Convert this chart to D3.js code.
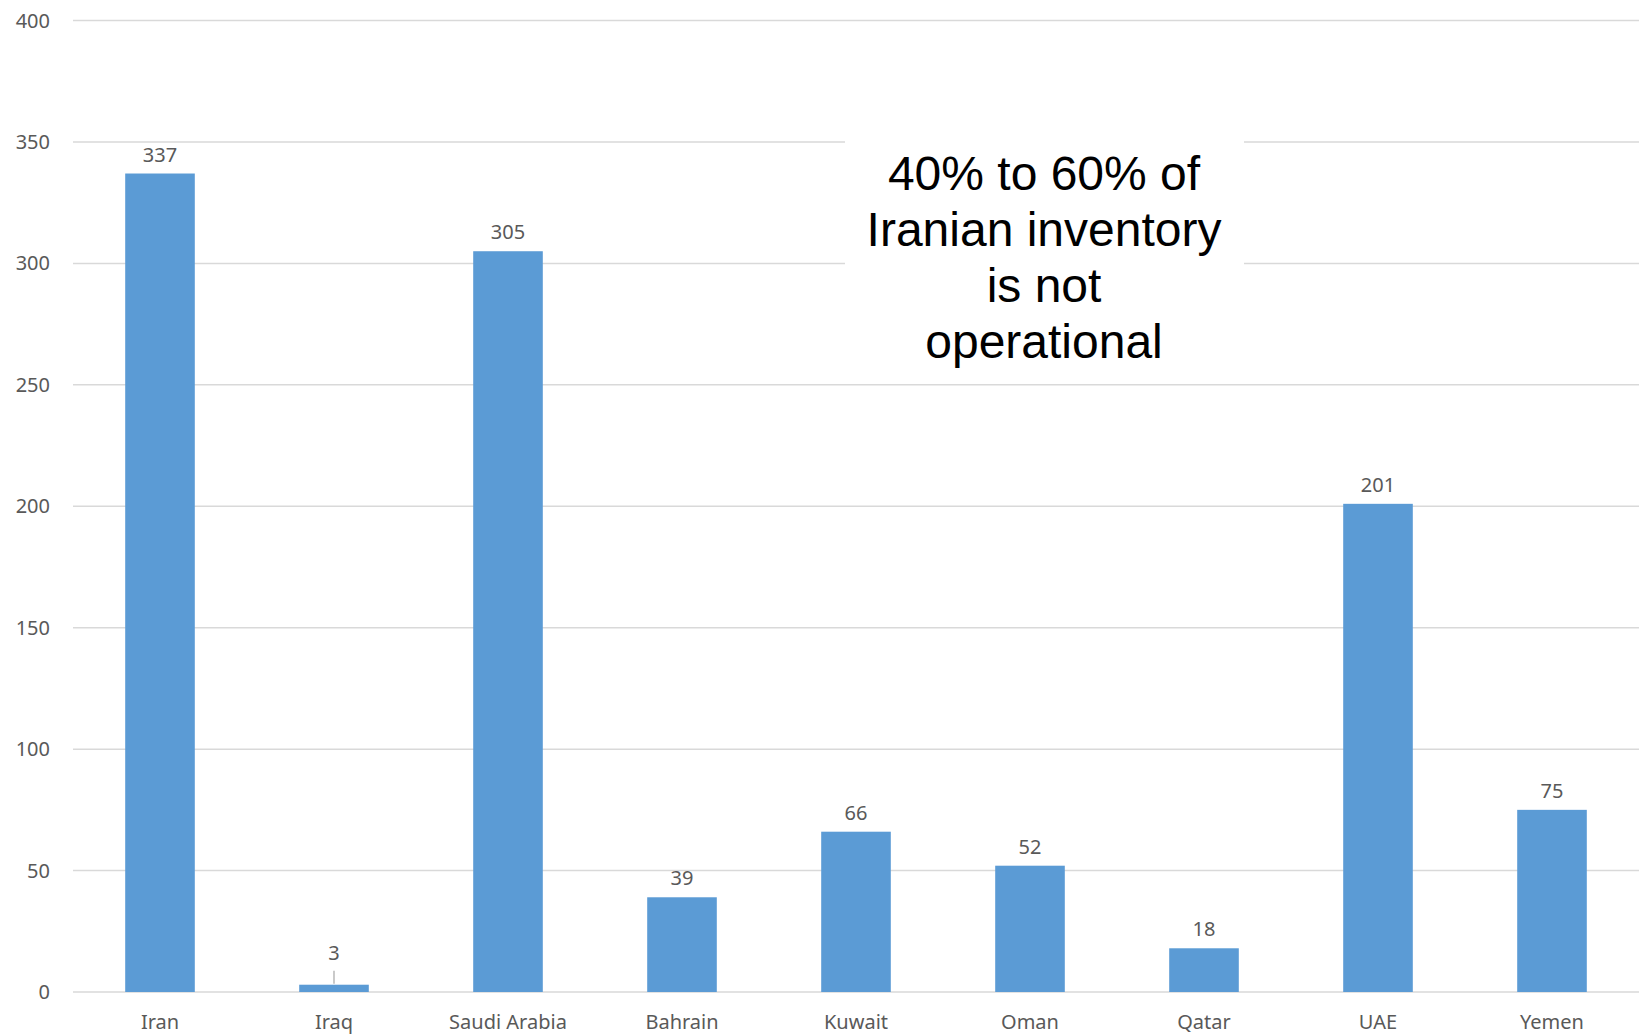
<!DOCTYPE html>
<html>
<head>
<meta charset="utf-8">
<script src="https://cdnjs.cloudflare.com/ajax/libs/d3/7.8.5/d3.min.js"></script>
<style>
  body { margin: 0; background: #fff; }
  .tick-label, .cat-label, .val-label { font-family: "Noto Sans", "Open Sans", sans-serif; fill: #595959; }
  .note { font-family: "Liberation Sans", Arial, sans-serif; fill: #000; }
</style>
</head>
<body>
<div id="chart"></div>
<script>
var countries = ['Iran', 'Iraq', 'Saudi Arabia', 'Bahrain', 'Kuwait', 'Oman', 'Qatar', 'UAE', 'Yemen']
var values = [337, 3, 305, 39, 66, 52, 18, 201, 75]
var yTicks = [0, 50, 100, 150, 200, 250, 300, 350, 400]
var noteLines = ['40% to 60% of', 'Iranian inventory', 'is not', 'operational']

var width = 1639, height = 1035
var margin = {left: 73, right: 0, top: 20.5, bottom: 43}

var svg = d3.select('#chart').append('svg')
  .attr('width', width)
  .attr('height', height)

var x = d3.scaleBand()
  .domain(countries)
  .range([margin.left, width - margin.right])
  .padding(0)

var y = d3.scaleLinear()
  .domain([0, 400])
  .range([height - margin.bottom, margin.top])

// excel gap width 150%
var barW = x.bandwidth() / 2.5

// gridlines
svg.append('g').selectAll('line')
  .data(yTicks)
  .join('line')
  .attr('x1', margin.left)
  .attr('x2', width - margin.right)
  .attr('y1', function(d){ return y(d) })
  .attr('y2', function(d){ return y(d) })
  .attr('stroke', '#d9d9d9')
  .attr('stroke-width', 1.5)

svg.append('g').selectAll('text')
  .data(yTicks)
  .join('text')
  .attr('class', 'tick-label')
  .attr('x', 50)
  .attr('y', function(d){ return y(d) })
  .attr('dy', '0.35em')
  .attr('text-anchor', 'end')
  .attr('font-size', 20)
  .text(function(d){ return d })

// note box hides the gridlines behind it
var noteX = 1044
svg.append('rect')
  .attr('x', 845)
  .attr('y', 125)
  .attr('width', 399)
  .attr('height', 245)
  .attr('fill', '#fff')

var data = countries.map(function(c, i){ return {name: c, value: values[i]} })

svg.append('g').selectAll('rect')
  .data(data)
  .join('rect')
  .attr('x', function(d){ return x(d.name) + (x.bandwidth() - barW) / 2 })
  .attr('y', function(d){ return y(d.value) })
  .attr('width', barW)
  .attr('height', function(d){ return y(0) - y(d.value) })
  .attr('fill', '#5b9bd5')

// value labels (Iraq sits higher with a leader line)
svg.append('g').selectAll('text')
  .data(data)
  .join('text')
  .attr('class', 'val-label')
  .attr('x', function(d){ return x(d.name) + x.bandwidth() / 2 })
  .attr('y', function(d){ return d.value < 10 ? y(d.value) - 25 : y(d.value) - 12 })
  .attr('text-anchor', 'middle')
  .attr('font-size', 20)
  .text(function(d){ return d.value })

data.filter(function(d){ return d.value < 10 }).forEach(function(d){
  var cx = x(d.name) + x.bandwidth() / 2
  svg.append('line')
    .attr('x1', cx).attr('x2', cx)
    .attr('y1', y(d.value) - 14)
    .attr('y2', y(d.value) - 1)
    .attr('stroke', '#a6a6a6')
    .attr('stroke-width', 1.2)
})

svg.append('g').selectAll('text')
  .data(countries)
  .join('text')
  .attr('class', 'cat-label')
  .attr('x', function(d){ return x(d) + x.bandwidth() / 2 })
  .attr('y', 1029)
  .attr('text-anchor', 'middle')
  .attr('font-size', 20)
  .text(function(d){ return d })

svg.append('g').selectAll('text')
  .data(noteLines)
  .join('text')
  .attr('class', 'note')
  .attr('x', noteX)
  .attr('y', function(d, i){ return 190 + i * 56 })
  .attr('text-anchor', 'middle')
  .attr('font-size', 48)
  .text(function(d){ return d })
</script>
</body>
</html>
